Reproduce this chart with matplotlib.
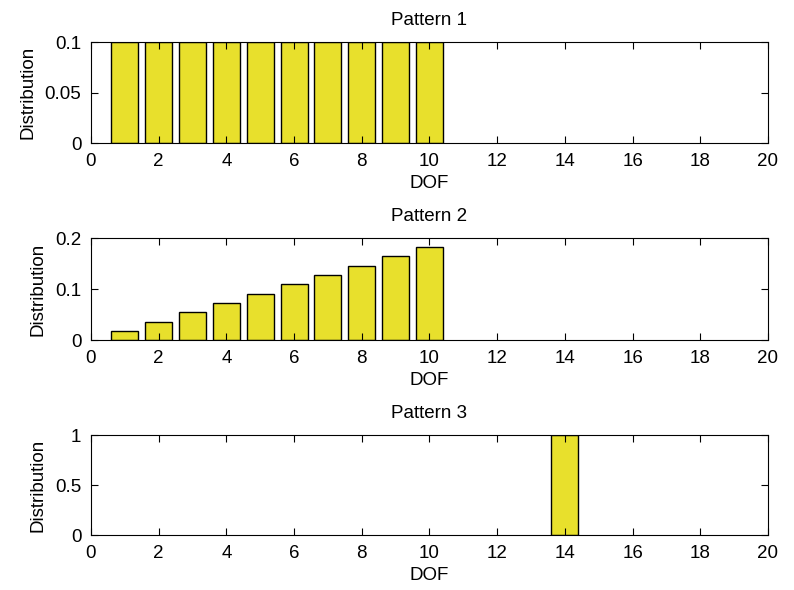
import numpy as np
import matplotlib.pyplot as plt

plt.rcParams['font.family'] = ['Liberation Sans', 'DejaVu Sans']
plt.rcParams['font.size'] = 13.5

dof = np.arange(1, 21)

titulos = ['Pattern 1', 'Pattern 2', 'Pattern 3']

dist_p1 = [0.1, 0.1, 0.1, 0.1, 0.1, 0.1, 0.1, 0.1, 0.1, 0.1,
           0, 0, 0, 0, 0, 0, 0, 0, 0, 0]
dist_p2 = [0.018, 0.036, 0.055, 0.073, 0.091, 0.109, 0.127, 0.145, 0.164, 0.182,
           0, 0, 0, 0, 0, 0, 0, 0, 0, 0]
dist_p3 = [0, 0, 0, 0, 0, 0, 0, 0, 0, 0,
           0, 0, 0, 1, 0, 0, 0, 0, 0, 0]

ylims = [(0, 0.1), (0, 0.2), (0, 1)]
yticks = [[0, 0.05, 0.1], [0, 0.1, 0.2], [0, 0.5, 1]]
yticklabels = [['0', '0.05', '0.1'], ['0', '0.1', '0.2'], ['0', '0.5', '1']]

cor = '#E8E02C'

fig = plt.figure(figsize=(7.94, 5.90), dpi=100)
posicoes = [
    [0.1146, 0.7576, 0.8526, 0.1712],
    [0.1146, 0.4237, 0.8526, 0.1729],
    [0.1146, 0.0932, 0.8526, 0.1695],
]

for i, dados in enumerate([dist_p1, dist_p2, dist_p3]):
    ax = fig.add_axes(posicoes[i])
    valores = np.array(dados)
    mask = valores > 0
    ax.bar(dof[mask], valores[mask], width=0.8, color=cor, edgecolor='black', linewidth=1.0)
    ax.set_xlim(0, 20)
    ax.set_ylim(*ylims[i])
    ax.set_xticks(np.arange(0, 21, 2))
    ax.set_yticks(yticks[i])
    ax.set_yticklabels(yticklabels[i])
    ax.tick_params(direction='in', top=True, right=True, length=5, width=0.8, pad=7)
    for s in ax.spines.values():
        s.set_linewidth(0.8)
    ax.set_title(titulos[i], fontsize=13.5, pad=12)
    ax.set_xlabel('DOF', labelpad=4)
    ax.set_ylabel('Distribution', labelpad=6)

fig.savefig('out.png', dpi=100)
